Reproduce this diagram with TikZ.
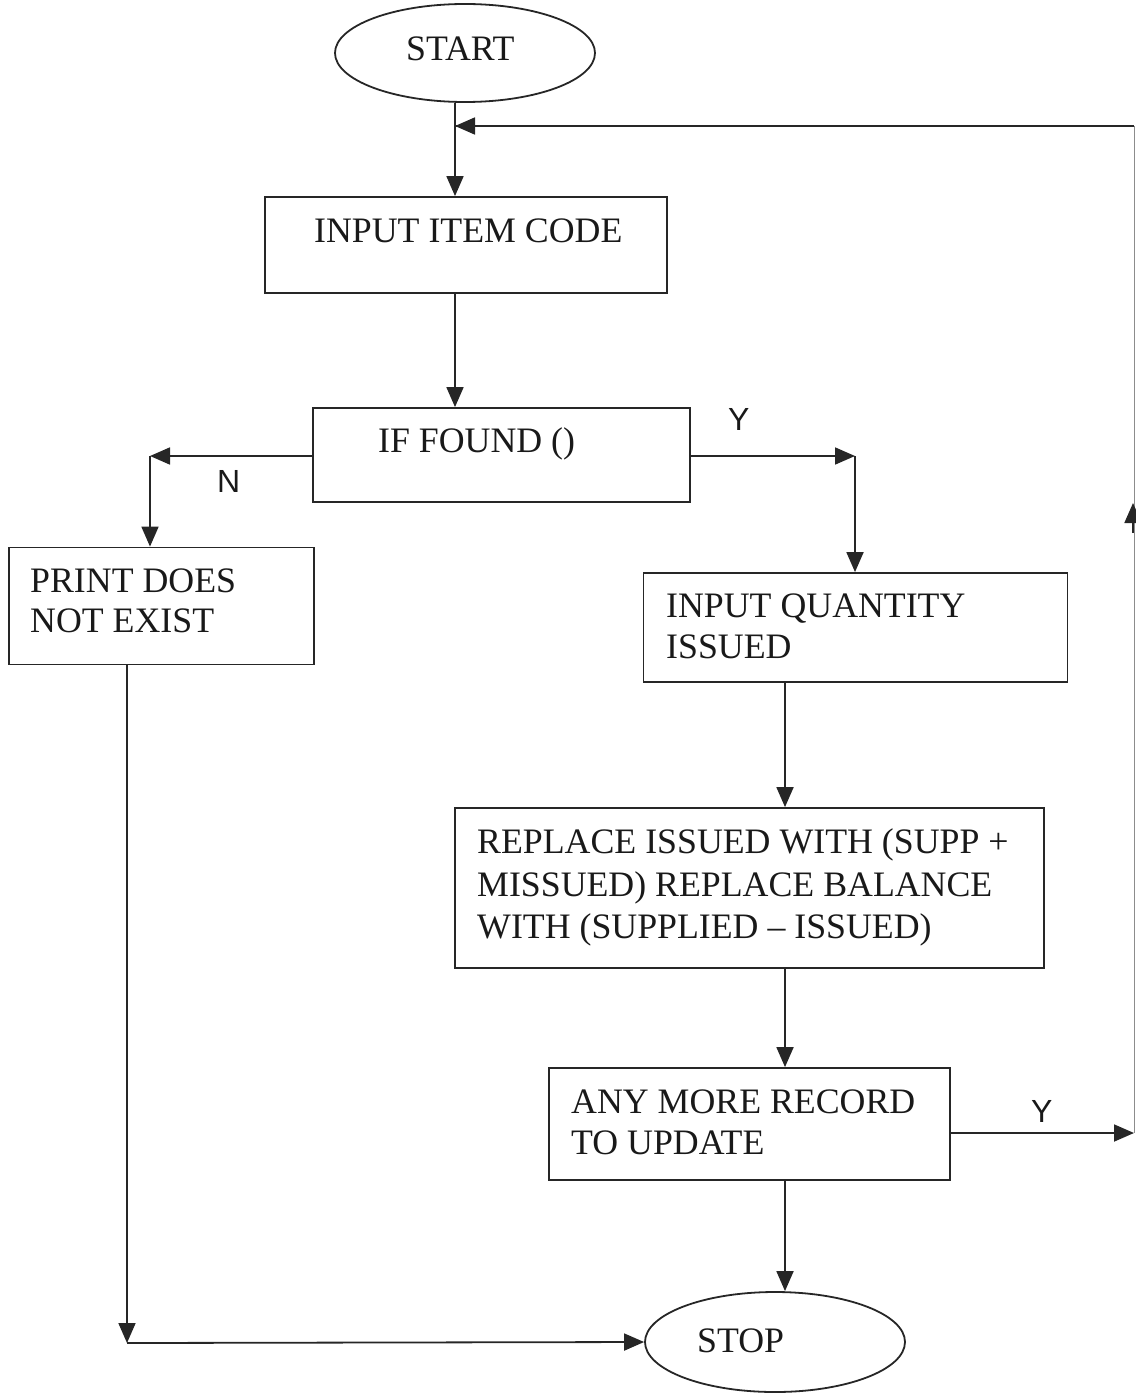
\documentclass[tikz,border=0pt]{standalone}
\usepackage{fontspec}
\setmainfont{Liberation Serif}
\newfontfamily\lblfont{Liberation Sans}
\usetikzlibrary{arrows.meta,shapes.geometric}
\begin{document}
\begin{tikzpicture}[x=1pt,y=-1pt,
  line/.style={line width=1.8pt, draw=black!85},
  flow/.style={line, -{Triangle[length=20pt,width=17pt]}},
  box/.style={draw=black!85, line width=1.8pt, rectangle, inner sep=0pt},
  term/.style={draw=black!85, line width=1.8pt, ellipse, inner sep=0pt},
  txt/.style={anchor=base west, inner sep=0pt, font=\fontsize{35.8}{42}\selectfont, text=black!90},
  yn/.style={anchor=base west, inner sep=0pt, font=\lblfont\fontsize{32}{38}\selectfont, text=black!90}]
\useasboundingbox (0,0) rectangle (1135,1394);

% shapes
\node[term, minimum width=260pt, minimum height=98pt] (start) at (465,53) {};
\node[box, minimum width=402pt, minimum height=96pt] (code) at (466,245) {};
\node[box, minimum width=377pt, minimum height=94pt] (found) at (501.5,455) {};
\node[box, minimum width=305pt, minimum height=117pt] (print) at (161.5,606) {};
\node[box, minimum width=424pt, minimum height=109pt] (qty) at (855.5,627.5) {};
\node[box, minimum width=589pt, minimum height=160pt] (repl) at (749.5,888) {};
\node[box, minimum width=401pt, minimum height=112pt] (more) at (749.5,1124) {};
\node[term, minimum width=260pt, minimum height=100pt] (stop) at (775,1342) {};

% texts
\node[txt] (tstart) at (406,61) {START};
\node[txt] (tcode) at (314,242) {INPUT ITEM CODE};
\node[txt] (tfound) at (378,452) {IF FOUND ()};
\node[txt] (tprint1) at (30,592) {PRINT DOES};
\node[txt] (tprint2) at (30,632) {NOT EXIST};
\node[txt] (tqty1) at (666,617) {INPUT QUANTITY};
\node[txt] (tqty2) at (666,658) {ISSUED};
\node[txt] (trepl1) at (477,853) {REPLACE ISSUED WITH (SUPP +};
\node[txt] (trepl2) at (477,896) {MISSUED) REPLACE BALANCE};
\node[txt] (trepl3) at (477,938) {WITH (SUPPLIED -- ISSUED)};
\node[txt] (tmore1) at (571,1113) {ANY MORE RECORD};
\node[txt] (tmore2) at (571,1154) {TO UPDATE};
\node[txt] (tstop) at (697,1352) {STOP};
\node[yn] (ylab1) at (728,430) {Y};
\node[yn] (nlab) at (217,492) {N};
\node[yn] (ylab2) at (1031,1122) {Y};

% connector points
\coordinate (nc) at (150,456);
\coordinate (yc) at (855,456);
\coordinate (bl) at (127,1343);
\coordinate (re) at (1134,1133);
\coordinate (rm) at (1133,503);
\coordinate (rt) at (1134,126);
\coordinate (jn) at (455,126);

% connectors
\draw[flow] (start.south -| jn) -- (code.north -| jn);
\draw[flow] (code.south -| jn) -- (found.north -| jn);
\draw[flow] (found.west |- nc) -- (nc);
\draw[flow] (nc) -- (print.north -| nc);
\draw[flow] (found.east |- yc) -- (yc);
\draw[flow] (yc) -- (qty.north -| yc);
\draw[flow] (qty.south -| 785,0) -- (repl.north -| 785,0);
\draw[flow] (repl.south -| 785,0) -- (more.north -| 785,0);
\draw[flow] (more.south -| 785,0) -- (stop.north -| 785,0);
\draw[flow] (more.east |- re) -- (re);
\draw[line width=1pt, draw=black!45] (re) -- (rt);
\draw[flow] ([yshift=-30pt]rm) -- (rm);
\draw[line] (rt) -- (jn);
\draw[flow] ([xshift=30pt]jn) -- (jn);
\draw[flow] (print.south -| bl) -- (bl);
\draw[flow] (bl) -- (stop.west);
\end{tikzpicture}
\end{document}
